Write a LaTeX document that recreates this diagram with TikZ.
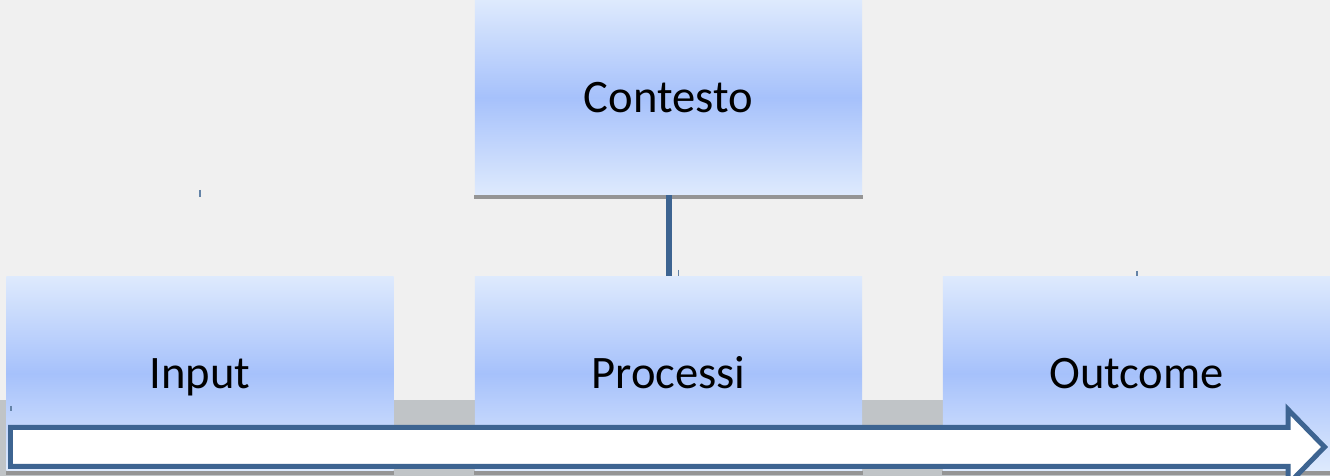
\documentclass[tikz,border=0pt]{standalone}
\usepackage{fontspec}
\setmainfont{Carlito}
\definecolor{bg}{HTML}{F0F0F0}
\definecolor{boxtop}{HTML}{DEEAFD}
\definecolor{boxmid}{HTML}{A6C1FB}
\definecolor{edgeblue}{HTML}{3D6491}
\definecolor{band}{HTML}{C0C4C7}
\definecolor{shadowgray}{HTML}{959595}
\tikzset{
  box/.style={rectangle, minimum width=7.75cm, minimum height=3.9cm, inner sep=0pt,
    top color=boxtop, bottom color=boxtop, middle color=boxmid,
    font=\fontsize{26.5}{30}\selectfont, text height=17pt, text depth=0pt},
  conn/.style={draw=edgeblue, line width=0.12cm},
  tick/.style={draw=edgeblue!80, line width=0.03cm},
}
\begin{document}
\begin{tikzpicture}[x=0.02cm,y=-0.02cm]
\useasboundingbox (0,0) rectangle (1330,476);
\clip (0,0) rectangle (1330,476);
\fill[bg] (0,0) rectangle (1330,476);
\fill[band] (0,400) rectangle (1330,476);

\node[box] (ctx) at (668.5,97.5) {Contesto};
\node[box] (inp) at (200,373.5) {Input};
\node[box] (proc) at (668.5,373.5) {Processi};
\node[box] (out) at (1136.5,373.5) {Outcome};

\foreach \b in {ctx,inp,proc,out}
  \fill[shadowgray] (\b.south west) rectangle ([yshift=-0.08cm]\b.south east);

\draw[conn] (ctx.south) -- (proc.north);

\draw[tick] (200,190) -- (200,197);
\draw[tick] (678.5,270) -- (678.5,276);
\draw[tick] (1137,271) -- (1137,276);
\draw[tick] (11,406) -- (11,411);

\draw[draw=edgeblue, line width=0.1cm, fill=white, line join=miter]
  (10.5,427.5) -- (1288,427.5) -- (1288,409.5) -- (1324.5,447) -- (1288,484.5)
  -- (1288,466.5) -- (10.5,466.5) -- cycle;
\end{tikzpicture}
\end{document}
